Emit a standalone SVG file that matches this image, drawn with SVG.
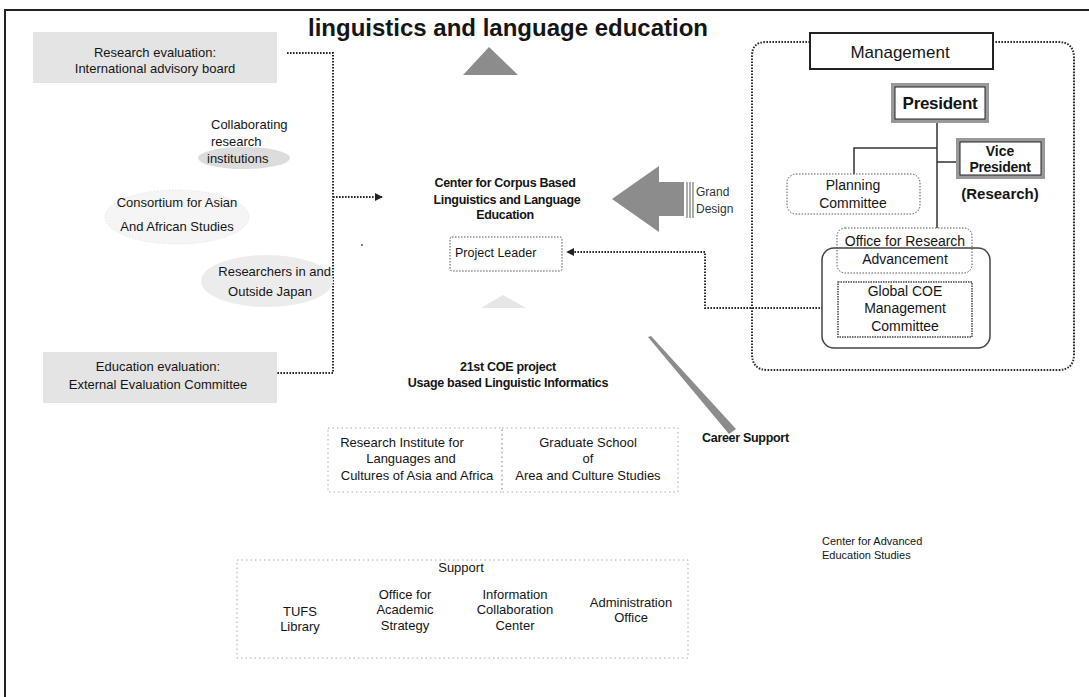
<svg xmlns="http://www.w3.org/2000/svg" width="1089" height="697" viewBox="0 0 1089 697">
<style>
text{font-family:"Liberation Sans",Arial,sans-serif;fill:#151515}
.l13{font-size:13px}
.b12{font-size:12.5px;font-weight:bold;letter-spacing:-0.3px}
.m{text-anchor:middle}
.dot{fill:none;stroke:#2a2a2a;stroke-width:2;stroke-dasharray:1.6 1.4}
.thin{fill:none;stroke:#555;stroke-width:1;stroke-dasharray:1.5 1.5}
.faint{fill:none;stroke:#aaa;stroke-width:1;stroke-dasharray:1.5 3}
.gbox{fill:#e4e4e4}
.dk{fill:#8c8c8c}
.gb{fill:#fff;stroke:#999;stroke-width:4}
.gbi{fill:none;stroke:#222;stroke-width:1}
</style>
<defs>
<marker id="ah" viewBox="0 0 10 10" refX="9" refY="5" markerWidth="4" markerHeight="4" orient="auto-start-reverse">
<path d="M0,0 L10,5 L0,10 z" fill="#222"/>
</marker>
</defs>
<rect width="1089" height="697" fill="#fff"/>
<g id="frame">
<line x1="4" y1="10" x2="1089" y2="10" stroke="#222" stroke-width="2"/>
<line x1="5" y1="10" x2="5" y2="697" stroke="#222" stroke-width="2"/>
</g>
<g id="title">
<text x="508" y="36" class="m" style="font-size:24px;font-weight:bold">linguistics and language education</text>
<polygon points="489,47 463,75 518,75" class="dk"/>
</g>
<g id="connectors">
<path d="M287,53 H333 V373 H270" class="dot"/>
<path d="M333,197 H382" class="dot" marker-end="url(#ah)"/>
<path d="M838,308 H705 V252 H567" class="dot" marker-end="url(#ah)"/>
<path d="M937,121 V228 M937,148 H854 V174 M937,162 H958" fill="none" stroke="#333" stroke-width="1.5"/>
<polygon points="648,337 651,336 736,429 729,434" class="dk"/>
<polygon points="612,199 659,166 659,182 684,182 684,216 659,216 659,232" class="dk"/>
<path d="M687,182 V218 M690,182 V218 M693,182 V218" stroke="#777" stroke-width="1.2"/>
<polygon points="503,295 481,308 526,308" fill="#e6e6e6"/>
<circle cx="362" cy="245" r="1" fill="#555"/>
</g>
<g id="research-eval">
<rect x="33" y="32" width="244" height="51" class="gbox"/>
<text x="155" y="57" class="l13 m">Research evaluation:</text>
<text x="155" y="73" class="l13 m">International advisory board</text>
</g>
<g id="collaborating">
<ellipse cx="244" cy="158" rx="46" ry="11" fill="#dcdcdc"/>
<text x="211" y="129" class="l13">Collaborating</text>
<text x="211" y="146" class="l13">research</text>
<text x="207" y="163" class="l13">institutions</text>
</g>
<g id="consortium">
<ellipse cx="177" cy="217" rx="72" ry="27" fill="#f5f5f5" stroke="#ddd" stroke-width="1" stroke-dasharray="1 2"/>
<text x="177" y="207" class="l13 m">Consortium for Asian</text>
<text x="177" y="231" class="l13 m">And  African Studies</text>
</g>
<g id="researchers">
<ellipse cx="267" cy="281" rx="66" ry="26" fill="#ececec"/>
<text x="331" y="276" class="l13" text-anchor="end">Researchers  in and</text>
<text x="270" y="296" class="l13 m">Outside Japan</text>
</g>
<g id="education-eval">
<rect x="43" y="352" width="234" height="51" class="gbox"/>
<text x="158" y="371" class="l13 m">Education evaluation:</text>
<text x="158" y="389" class="l13 m">External Evaluation Committee</text>
</g>
<g id="center">
<text x="505" y="187" class="b12 m">Center for Corpus  Based</text>
<text x="507" y="204" class="b12 m">Linguistics and Language</text>
<text x="505" y="219" class="b12 m">Education</text>
</g>
<g id="project-leader">
<rect x="450" y="237" width="112" height="34" rx="2" class="thin"/>
<text x="455" y="257" style="font-size:12.5px">Project Leader</text>
</g>
<g id="grand-design">
<text x="696" y="196" style="font-size:12px;fill:#333">Grand</text>
<text x="696" y="213" style="font-size:12px;fill:#333">Design</text>
</g>
<g id="coe21">
<text x="508" y="371" class="b12 m">21st COE project</text>
<text x="508" y="387" class="b12 m">Usage based Linguistic Informatics</text>
</g>
<g id="research-institute">
<rect x="328" y="428" width="174" height="64" class="faint"/>
<text x="402" y="447" class="l13 m">Research Institute for</text>
<text x="411" y="463" class="l13 m">Languages and</text>
<text x="417" y="480" class="l13 m">Cultures of Asia and Africa</text>
</g>
<g id="graduate-school">
<rect x="502" y="428" width="176" height="64" class="faint"/>
<text x="588" y="447" class="l13 m">Graduate School</text>
<text x="588" y="463" class="l13 m">of</text>
<text x="588" y="480" class="l13 m">Area and Culture Studies</text>
</g>
<g id="career-support">
<text x="702" y="442" class="b12">Career Support</text>
</g>
<g id="advanced-education">
<text x="822" y="545" style="font-size:11px">Center for Advanced</text>
<text x="822" y="559" style="font-size:11px">Education Studies</text>
</g>
<g id="support">
<rect x="237" y="560" width="451" height="98" class="faint"/>
<text x="461" y="572" class="l13 m">Support</text>
<text x="300" y="616" class="l13 m">TUFS</text>
<text x="300" y="631" class="l13 m">Library</text>
<text x="405" y="599" class="l13 m">Office for</text>
<text x="405" y="614" class="l13 m">Academic</text>
<text x="405" y="630" class="l13 m">Strategy</text>
<text x="515" y="599" class="l13 m">Information</text>
<text x="515" y="614" class="l13 m">Collaboration</text>
<text x="515" y="630" class="l13 m">Center</text>
<text x="631" y="607" class="l13 m">Administration</text>
<text x="631" y="622" class="l13 m">Office</text>
</g>
<g id="management">
<path d="M810,42 H766 Q752,42 752,56 V354 Q752,370 768,370 H1058 Q1074,370 1074,354 V58 Q1074,42 1058,42 H993" class="dot"/>
<rect x="810" y="33" width="183" height="36" fill="#fff" stroke="#222" stroke-width="2"/>
<text x="900" y="58" class="m" style="font-size:17px">Management</text>
</g>
<g id="president">
<rect x="893" y="85" width="94" height="36" class="gb"/>
<rect x="895" y="87" width="90" height="32" class="gbi"/>
<text x="940" y="109" class="m" style="font-size:17px;font-weight:bold;letter-spacing:-0.3px">President</text>
</g>
<g id="vice-president">
<rect x="958" y="140" width="85" height="37" class="gb"/>
<rect x="960" y="142" width="81" height="33" class="gbi"/>
<text x="1000" y="156" class="m" style="font-size:14px;font-weight:bold">Vice</text>
<text x="1000" y="172" class="m" style="font-size:14px;font-weight:bold;letter-spacing:-0.3px">President</text>
<text x="1000" y="199" class="m" style="font-size:15px;font-weight:bold">(Research)</text>
</g>
<g id="planning-committee">
<rect x="787" y="174" width="133" height="40" rx="9" fill="#fff" class="thin"/>
<text x="853" y="190" class="m" style="font-size:14px">Planning</text>
<text x="853" y="208" class="m" style="font-size:14px">Committee</text>
</g>
<g id="research-advancement">
<rect x="822" y="248" width="168" height="100" rx="12" fill="#fff" stroke="#444" stroke-width="1.5"/>
<rect x="837" y="228" width="135" height="45" rx="8" fill="#fff" class="thin"/>
<text x="905" y="246" class="m" style="font-size:14px">Office for Research</text>
<text x="905" y="264" class="m" style="font-size:14px">Advancement</text>
</g>
<g id="global-coe">
<rect x="838" y="282" width="134" height="55" fill="#fff" stroke="#444" stroke-width="1.5" stroke-dasharray="1.5 1"/>
<text x="905" y="296" class="m" style="font-size:14px">Global COE</text>
<text x="905" y="313" class="m" style="font-size:14px">Management</text>
<text x="905" y="331" class="m" style="font-size:14px">Committee</text>
</g>
</svg>
